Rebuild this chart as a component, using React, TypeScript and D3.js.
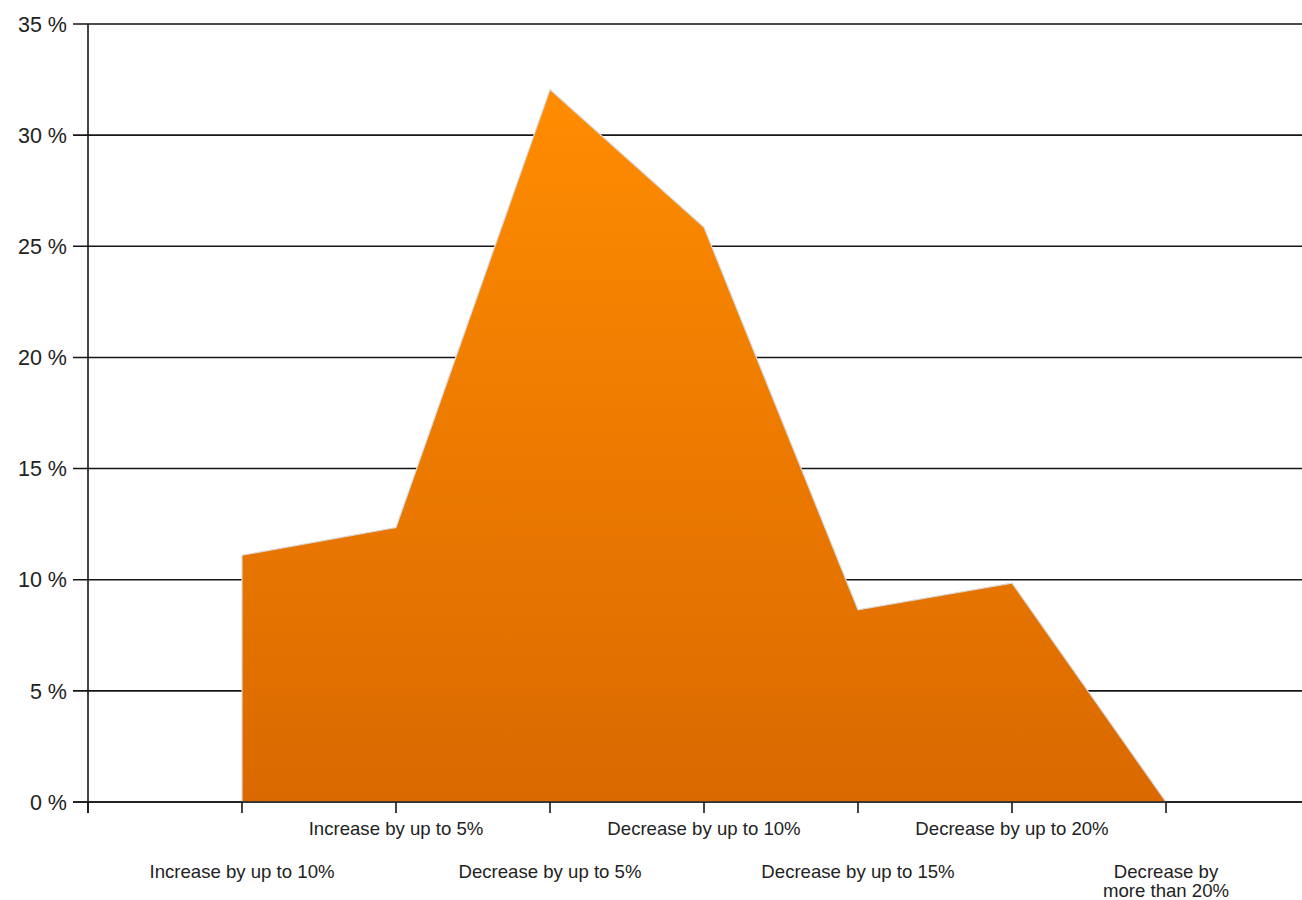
import React, { useEffect, useRef } from "react";
import * as d3 from "d3";

// Share of respondents per expected change category
const categories: string[] = [
  "Increase by up to 10%",
  "Increase by up to 5%",
  "Decrease by up to 5%",
  "Decrease by up to 10%",
  "Decrease by up to 15%",
  "Decrease by up to 20%",
  "Decrease by more than 20%",
];
const shares: number[] = [11.1, 12.35, 32.05, 25.85, 8.65, 9.85, 0];
const yTicks: number[] = [0, 5, 10, 15, 20, 25, 30, 35];

const W = 1302;
const H = 900;
const margin = { left: 88, top: 24, right: 0, bottom: 98 };

export default function App() {
  const ref = useRef<SVGSVGElement | null>(null);

  useEffect(() => {
    const svg = d3.select(ref.current);
    svg.selectAll("*").remove();

    const x0 = margin.left;
    const x1 = W - margin.right;
    const yBottom = H - margin.bottom;

    // Category slots: slot 0 is the empty origin, categories sit on slots 1..n
    const x = d3.scaleLinear().domain([0, 7.883]).range([x0, x1]);
    const y = d3.scaleLinear().domain([0, 35]).range([yBottom, margin.top]);

    const defs = svg.append("defs");
    const grad = defs
      .append("linearGradient")
      .attr("id", "areaFill")
      .attr("x1", 0)
      .attr("y1", 0)
      .attr("x2", 0)
      .attr("y2", 1);
    grad.append("stop").attr("offset", "0%").attr("stop-color", "#ff8c00");
    grad.append("stop").attr("offset", "100%").attr("stop-color", "#da6900");

    const font = "'Liberation Sans', Arial, sans-serif";

    // Horizontal grid lines with left tick stubs
    svg
      .append("g")
      .selectAll("line")
      .data(yTicks)
      .join("line")
      .attr("x1", x0 - 15)
      .attr("x2", x1)
      .attr("y1", (d) => y(d))
      .attr("y2", (d) => y(d))
      .attr("stroke", "#161616")
      .attr("stroke-width", 1.6);

    // Y labels
    svg
      .append("g")
      .selectAll("text")
      .data(yTicks)
      .join("text")
      .attr("x", x0 - 21)
      .attr("y", (d) => y(d))
      .attr("dy", "0.36em")
      .attr("text-anchor", "end")
      .attr("font-family", font)
      .attr("font-size", 21.5)
      .attr("fill", "#222")
      .text((d) => `${d} %`);

    // Area
    const pts = shares.map((v, i) => [i + 1, v] as [number, number]);
    const area = d3
      .area<[number, number]>()
      .x((d) => x(d[0]))
      .y0(y(0))
      .y1((d) => y(d[1]));
    svg
      .append("path")
      .datum(pts)
      .attr("d", area)
      .attr("fill", "url(#areaFill)")
      .attr("stroke", "#d9d9d9")
      .attr("stroke-width", 1.2)
      .attr("stroke-linejoin", "miter");

    // Baseline and vertical axis
    svg
      .append("line")
      .attr("x1", x0 - 15)
      .attr("x2", x1)
      .attr("y1", y(0))
      .attr("y2", y(0))
      .attr("stroke", "#161616")
      .attr("stroke-width", 1.6);
    svg
      .append("line")
      .attr("x1", x0)
      .attr("x2", x0)
      .attr("y1", y(35))
      .attr("y2", y(0) + 11)
      .attr("stroke", "#161616")
      .attr("stroke-width", 1.6);

    // Bottom ticks
    const tickIdx = d3.range(0, categories.length + 1);
    svg
      .append("g")
      .selectAll("line")
      .data(tickIdx)
      .join("line")
      .attr("x1", (d) => x(d))
      .attr("x2", (d) => x(d))
      .attr("y1", y(0))
      .attr("y2", y(0) + 11)
      .attr("stroke", "#161616")
      .attr("stroke-width", 1.6);

    // Staggered category labels
    const labels = svg
      .append("g")
      .selectAll("text")
      .data(categories)
      .join("text")
      .attr("x", (_, i) => x(i + 1))
      .attr("y", (_, i) => (i % 2 === 1 ? y(0) + 26 : y(0) + 69))
      .attr("dy", "0.35em")
      .attr("text-anchor", "middle")
      .attr("font-family", font)
      .attr("font-size", 18.6)
      .attr("fill", "#222")
      .text((d) => d);

    // Labels wider than the slot pair wrap onto narrower lines
    const slotW = 215;
    const wrapW = 140;
    labels.each(function (d) {
      const t = d3.select(this);
      const node = this as SVGTextElement;
      if (node.getComputedTextLength() <= slotW) return;
      const words = d.split(" ");
      const baseX = t.attr("x");
      let line: string[] = [];
      let tspan = t.text(null).append("tspan").attr("x", baseX);
      for (const w of words) {
        line.push(w);
        tspan.text(line.join(" "));
        const tn = tspan.node() as SVGTSpanElement;
        if (tn.getComputedTextLength() > wrapW && line.length > 1) {
          line.pop();
          tspan.text(line.join(" "));
          line = [w];
          tspan = t.append("tspan").attr("x", baseX).attr("dy", "1.05em").text(w);
        }
      }
    });
  }, []);

  return (
    <svg
      ref={ref}
      width={W}
      height={H}
      style={{ position: "absolute", left: 0, top: 0, background: "#fff" }}
    />
  );
}
